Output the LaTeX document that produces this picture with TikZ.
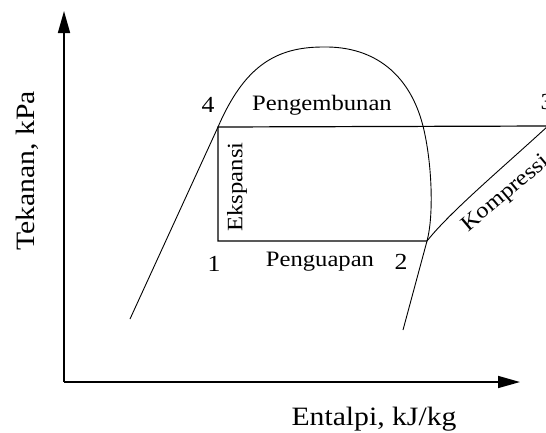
\documentclass[tikz,border=0pt]{standalone}
\usepackage{fontspec}
\setmainfont[FakeStretch=1.12]{Liberation Serif}
\usetikzlibrary{arrows.meta}
\begin{document}
\begin{tikzpicture}[x=1pt,y=-1pt,
  axis/.style={line width=1.6pt,-{Triangle[length=22pt,width=12pt]}},
  cyc/.style={line width=1.2pt},
  satcurve/.style={line width=0.9pt},
  lbl/.style={font=\fontsize{22}{22}\selectfont,inner sep=0pt},
  num/.style={font=\fontsize{23}{23}\selectfont,inner sep=0pt},
  axlbl/.style={font=\fontsize{26.5}{26.5}\selectfont,inner sep=0pt}]
\useasboundingbox (0,0) rectangle (546,432);
\clip (0,0) rectangle (546,432);
% axes
\coordinate (O) at (64,382);
\coordinate (ytop) at (64,11);
\coordinate (xend) at (520,382);
\draw[axis] (O) -- (ytop);
\draw[axis] (O) -- (xend);
% cycle points
\coordinate (p4) at (218,127);
\coordinate (p1) at (218,241);
\coordinate (p2) at (427,241);
\coordinate (p3) at (548,126);
\coordinate (lb) at (130,319);
\coordinate (rb) at (403,330);
\coordinate (top) at (323,47);
\coordinate (rc) at (423,126);
% saturation dome
\draw[satcurve] (lb) -- (p4)
  .. controls (244,67) and (275,47) .. (top)
  .. controls (375,46) and (410,75) .. (rc)
  .. controls (432,162) and (434,215) .. (p2)
  -- (rb);
% cycle
\draw[cyc] (p3) -- (p4) -- (p1) -- (p2);
\draw[satcurve] (p2) .. controls (450,212) and (500,170) .. (p3);
% labels
\node[num] (n4) at (208,105) {4};
\node[lbl] (cond) at (322,105) {Pengembunan};
\node[num] (n1) at (214,264) {1};
\node[lbl] (evap) at (320,262) {Penguapan};
\node[num] (n2) at (401,262) {2};
\node[num] (n3) at (547,102) {3};
\node[lbl,rotate=40] (komp) at (506,194) {Kompressi};
\node[lbl,rotate=90] (exp) at (237,187) {Ekspansi};
\node[axlbl,rotate=90] (ylab) at (27,171) {Tekanan, kPa};
\node[axlbl] (xlab) at (374,419) {Entalpi, kJ/kg};
\end{tikzpicture}
\end{document}
